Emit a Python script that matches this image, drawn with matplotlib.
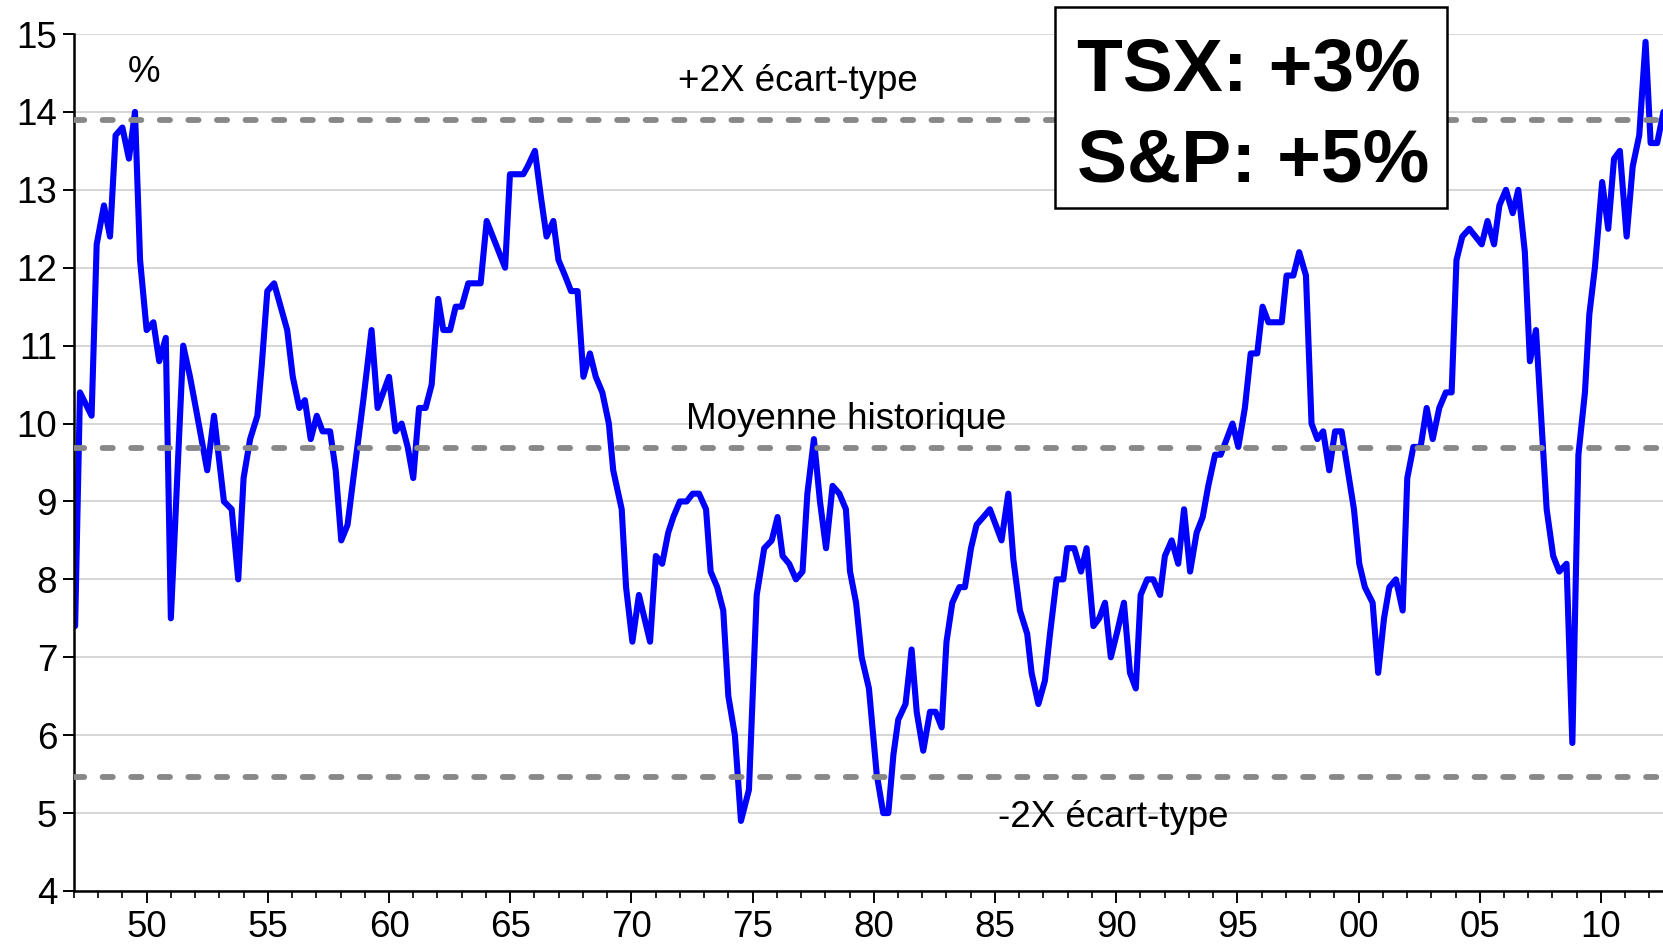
import numpy as np
import matplotlib.pyplot as plt
from matplotlib.patches import Rectangle
from matplotlib.ticker import MultipleLocator, FuncFormatter

# ---- DATA ----
years = [
    1947.05, 1947.25, 1947.73, 1947.94, 1948.24, 1948.49, 1948.72, 1949.00, 1949.27, 1949.52,
    1949.73, 1950.00, 1950.28, 1950.52, 1950.79, 1951.00, 1951.51, 1951.79, 1952.00, 1952.50,
    1952.78, 1953.19, 1953.51, 1953.78, 1954.00, 1954.27, 1954.57, 1954.75, 1954.98, 1955.26,
    1955.80, 1956.03, 1956.30, 1956.53, 1956.77, 1957.02, 1957.26, 1957.57, 1957.80, 1958.03,
    1958.29, 1958.53, 1958.94, 1959.28, 1959.53, 1960.00, 1960.27, 1960.52, 1960.77, 1961.00,
    1961.24, 1961.51, 1961.76, 1962.03, 1962.24, 1962.52, 1962.75, 1963.00, 1963.27, 1963.78,
    1964.03, 1964.79, 1964.99, 1965.54, 1965.72, 1966.02, 1966.27, 1966.50, 1966.78, 1966.99,
    1967.26, 1967.51, 1967.78, 1968.02, 1968.29, 1968.53, 1968.80, 1969.07, 1969.25, 1969.60,
    1969.78, 1970.04, 1970.31, 1970.77, 1971.01, 1971.27, 1971.52, 1971.73, 1972.00, 1972.28,
    1972.53, 1972.79, 1973.08, 1973.27, 1973.54, 1973.79, 1974.00, 1974.27, 1974.52, 1974.85,
    1975.17, 1975.48, 1975.79, 1976.03, 1976.24, 1976.51, 1976.79, 1977.06, 1977.26, 1977.53,
    1977.78, 1978.03, 1978.30, 1978.58, 1978.85, 1979.02, 1979.27, 1979.50, 1979.80, 1980.12,
    1980.39, 1980.60, 1980.81, 1981.01, 1981.31, 1981.56, 1981.77, 1982.04, 1982.32, 1982.55,
    1982.80, 1983.00, 1983.24, 1983.53, 1983.76, 1984.01, 1984.24, 1984.52, 1984.79, 1985.27,
    1985.55, 1985.76, 1986.03, 1986.33, 1986.51, 1986.79, 1987.06, 1987.27, 1987.54, 1987.82,
    1987.98, 1988.27, 1988.55, 1988.78, 1989.06, 1989.30, 1989.54, 1989.78, 1990.06, 1990.32,
    1990.57, 1990.81, 1991.01, 1991.28, 1991.53, 1991.81, 1992.01, 1992.29, 1992.56, 1992.80,
    1993.05, 1993.32, 1993.57, 1993.80, 1994.08, 1994.31, 1994.56, 1994.80, 1995.04, 1995.31,
    1995.55, 1995.82, 1996.04, 1996.28, 1996.83, 1997.03, 1997.31, 1997.55, 1997.83, 1998.06,
    1998.30, 1998.54, 1998.79, 1999.03, 1999.30, 1999.81, 2000.03, 2000.26, 2000.58, 2000.81,
    2001.05, 2001.27, 2001.54, 2001.82, 2002.01, 2002.26, 2002.56, 2002.81, 2003.06, 2003.33,
    2003.60, 2003.84, 2004.04, 2004.28, 2004.57, 2005.08, 2005.32, 2005.59, 2005.81, 2006.08,
    2006.36, 2006.59, 2006.86, 2007.07, 2007.32, 2007.55, 2007.76, 2008.03, 2008.28, 2008.58,
    2008.82, 2009.07, 2009.34, 2009.52, 2009.75, 2010.05, 2010.30, 2010.54, 2010.78, 2011.06,
    2011.31, 2011.58, 2011.84, 2012.05, 2012.32, 2012.58,
]
earnings_yield = [
    7.4, 10.4, 10.1, 12.3, 12.8, 12.4, 13.7, 13.8, 13.4, 14.0,
    12.1, 11.2, 11.3, 10.8, 11.1, 7.5, 11.0, 10.6, 10.25, 9.4,
    10.1, 9.0, 8.9, 8.0, 9.3, 9.8, 10.1, 10.75, 11.7, 11.8,
    11.2, 10.6, 10.2, 10.3, 9.8, 10.1, 9.9, 9.9, 9.4, 8.5,
    8.7, 9.3, 10.3, 11.2, 10.2, 10.6, 9.9, 10.0, 9.7, 9.3,
    10.2, 10.2, 10.5, 11.6, 11.2, 11.2, 11.5, 11.5, 11.8, 11.8,
    12.6, 12.0, 13.2, 13.2, 13.3, 13.5, 12.9, 12.4, 12.6, 12.1,
    11.9, 11.7, 11.7, 10.6, 10.9, 10.6, 10.4, 10.0, 9.4, 8.9,
    7.9, 7.2, 7.8, 7.2, 8.3, 8.2, 8.6, 8.8, 9.0, 9.0,
    9.1, 9.1, 8.9, 8.1, 7.9, 7.6, 6.5, 6.0, 4.9, 5.3,
    7.8, 8.4, 8.5, 8.8, 8.3, 8.2, 8.0, 8.1, 9.1, 9.8,
    9.0, 8.4, 9.2, 9.1, 8.9, 8.1, 7.7, 7.0, 6.6, 5.5,
    5.0, 5.0, 5.75, 6.2, 6.4, 7.1, 6.3, 5.8, 6.3, 6.3,
    6.1, 7.2, 7.7, 7.9, 7.9, 8.4, 8.7, 8.8, 8.9, 8.5,
    9.1, 8.25, 7.6, 7.3, 6.8, 6.4, 6.7, 7.3, 8.0, 8.0,
    8.4, 8.4, 8.1, 8.4, 7.4, 7.5, 7.7, 7.0, 7.35, 7.7,
    6.8, 6.6, 7.8, 8.0, 8.0, 7.8, 8.3, 8.5, 8.2, 8.9,
    8.1, 8.6, 8.8, 9.2, 9.6, 9.6, 9.8, 10.0, 9.7, 10.2,
    10.9, 10.9, 11.5, 11.3, 11.3, 11.9, 11.9, 12.2, 11.9, 10.0,
    9.8, 9.9, 9.4, 9.9, 9.9, 8.9, 8.2, 7.9, 7.7, 6.8,
    7.5, 7.9, 8.0, 7.6, 9.3, 9.7, 9.7, 10.2, 9.8, 10.2,
    10.4, 10.4, 12.1, 12.4, 12.5, 12.3, 12.6, 12.3, 12.8, 13.0,
    12.7, 13.0, 12.2, 10.8, 11.2, 10.0, 8.9, 8.3, 8.1, 8.2,
    5.9, 9.6, 10.4, 11.4, 12.0, 13.1, 12.5, 13.4, 13.5, 12.4,
    13.3, 13.7, 14.9, 13.6, 13.6, 14.0,
]

historical_mean = 9.68
plus_2sd = 13.89
minus_2sd = 5.46

box_lines = ["TSX: +3%", "S&P: +5%"]

# ---- PLOT ----
plt.rcParams['font.family'] = ['Liberation Sans', 'DejaVu Sans']

W, H = 1663, 944
fig = plt.figure(figsize=(W / 100, H / 100), dpi=100)
ax = fig.add_axes([73.9 / W, 53 / H, 1 - 73.9 / W, 857 / H])

ax.set_xlim(1947, 2012.56)
ax.set_ylim(4, 15)

ax.yaxis.grid(True, color='#d0d0d0', linewidth=1.2, zorder=0)
ax.set_axisbelow(True)

ax.plot(years, earnings_yield, color='#0000ff', linewidth=4.4,
        solid_joinstyle='round', solid_capstyle='round', zorder=2)

for lvl in (plus_2sd, historical_mean, minus_2sd):
    ax.axhline(lvl, color='#888888', linewidth=4.2, dashes=(1.75, 3.15),
               dash_capstyle='round', zorder=3)

for side in ('top', 'right'):
    ax.spines[side].set_visible(False)
for side in ('left', 'bottom'):
    ax.spines[side].set_linewidth(1.8)
    ax.spines[side].set_color('black')

ax.yaxis.set_major_locator(MultipleLocator(1))
ax.xaxis.set_major_locator(MultipleLocator(5))
ax.xaxis.set_minor_locator(MultipleLocator(1))
ax.xaxis.set_major_formatter(FuncFormatter(lambda v, p: f"{int(round(v)) % 100:02d}"))
ax.tick_params(axis='y', direction='out', length=8, width=1.4, labelsize=26.5, pad=4)
ax.tick_params(axis='x', which='major', direction='out', length=8.6, width=1.4,
               labelsize=26.5, pad=5)
ax.tick_params(axis='x', which='minor', direction='out', length=5, width=1.2)

fs = 26.5
ax.text(1949.89, 14.39, "%", fontsize=fs, ha='center', va='baseline')
ax.text(1976.87, 14.27, "+2X écart-type", fontsize=fs, ha='center', va='baseline')
ax.text(1978.88, 9.93, "Moyenne historique", fontsize=fs, ha='center', va='baseline')
ax.text(1989.88, 4.82, "-2X écart-type", fontsize=fs, ha='center', va='baseline')

# boxed callout
box = Rectangle((1055 / W, 1 - 208 / H), 392 / W, 201 / H, transform=fig.transFigure,
                facecolor='white', edgecolor='black', linewidth=1.8, zorder=5)
fig.patches.append(box)
fig.text(1077 / W, 1 - 90.7 / H, box_lines[0], fontsize=54, fontweight='bold',
         va='baseline', ha='left', zorder=6)
fig.text(1077 / W, 1 - 181.7 / H, box_lines[1], fontsize=54, fontweight='bold',
         va='baseline', ha='left', zorder=6)

fig.savefig("out.png", dpi=100)
